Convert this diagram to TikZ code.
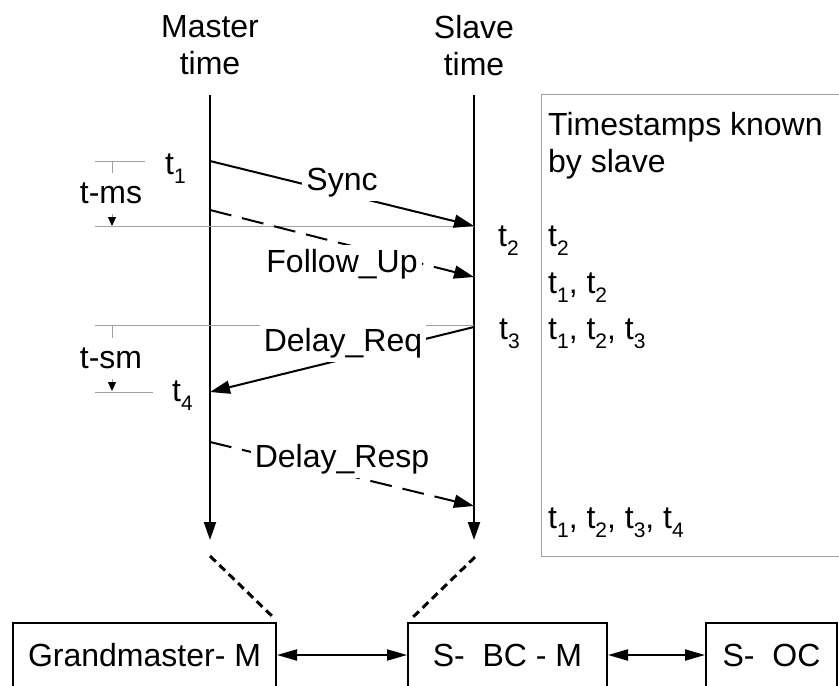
\documentclass[tikz,border=0pt]{standalone}
\usepackage{fontspec}
\setmainfont{Liberation Sans}
\usetikzlibrary{arrows.meta}
\newcommand\tsub[1]{t\raisebox{-9pt}{\fontsize{21}{21}\selectfont #1}}
\begin{document}
\begin{tikzpicture}[x=1pt,y=-1pt,
  every node/.style={font=\fontsize{32}{37}\selectfont, inner sep=0pt},
  timeline/.style={line width=2pt,-{Triangle[length=18pt,width=12pt]}},
  msg/.style={line width=2pt,-{Triangle[length=20pt,width=13pt]}},
  dmsg/.style={msg, dash pattern=on 22pt off 11pt},
  guide/.style={gray!75, line width=1pt},
  dimarrow/.style={guide,-{Triangle[length=9pt,width=8pt,color=black]}},
  lbl/.style={fill=white, inner sep=4pt, anchor=base},
  dimlbl/.style={fill=white, inner xsep=2pt, inner ysep=10pt},
  tlbl/.style={anchor=base west},
  entity/.style={draw, line width=2pt, minimum height=64pt},
  link/.style={line width=2pt,{Triangle[length=20pt,width=11pt]}-{Triangle[length=20pt,width=11pt]}},
  joint/.style={line width=3pt, dash pattern=on 8pt off 5pt}
]
\useasboundingbox (0,0) rectangle (839,686);

% headings
\node[align=center, anchor=north] (mhead) at (210,15) {Master\\time};
\node[align=center, anchor=north] (shead) at (474,15) {Slave\\time};

% timelines
\coordinate (mtop) at (210,95);
\coordinate (mbot) at (210,540);
\coordinate (stop) at (474,95);
\coordinate (sbot) at (474,540);
\draw[timeline] (mtop) -- (mbot);
\draw[timeline] (stop) -- (sbot);

% event points
\coordinate (m1) at (210,161);
\coordinate (s2) at (474,226);
\coordinate (m1b) at (210,210);
\coordinate (s2b) at (474,277);
\coordinate (s3) at (474,327);
\coordinate (m4) at (210,392);
\coordinate (m5) at (210,442);
\coordinate (s6) at (474,506);

% guide lines
\coordinate (g1a) at (95,161);
\coordinate (g1b) at (145,161);
\coordinate (g2a) at (95,226);
\coordinate (g3a) at (95,325);
\coordinate (g3b) at (474,325);
\coordinate (g4a) at (95,392);
\coordinate (g4b) at (153,392);
\coordinate (d1a) at (112,161);
\coordinate (d1b) at (112,226);
\coordinate (d2a) at (112,325);
\coordinate (d2b) at (112,391);
\draw[guide] (g1a) -- (g1b);
\draw[guide] (g2a) -- (s2);
\draw[guide] (g3a) -- (g3b);
\draw[guide] (g4a) -- (g4b);
\draw[dimarrow] (d1a) -- (d1b);
\draw[dimarrow] (d2a) -- (d2b);
\node[dimlbl] (tms) at (111,193) {t-ms};
\node[dimlbl] (tsm) at (111,358) {t-sm};

% messages
\draw[msg] (m1) -- (s2);
\draw[dmsg] (m1b) -- (s2b);
\draw[msg] (s3) -- (m4);
\draw[dmsg] (m5) -- (s6);
\node[lbl] (sync) at (342,190) {Sync};
\node[lbl] (fup) at (342,272) {Follow\_Up};
\node[lbl] (dreq) at (343,351) {Delay\_Req};
\node[lbl] (dresp) at (342,467) {Delay\_Resp};

% timestamp labels
\node[tlbl] (t1) at (165,174) {\tsub{1}};
\node[tlbl] (t2) at (498,246) {\tsub{2}};
\node[tlbl] (t3) at (499,339) {\tsub{3}};
\node[tlbl] (t4) at (172,401) {\tsub{4}};

% timestamps box
\draw[guide] (541,94) rectangle (850,556);
\node[anchor=north west, align=left] (known) at (548,112) {Timestamps known\\by slave};
\node[tlbl] (k1) at (548,246) {\tsub{2}};
\node[tlbl] (k2) at (548,293) {\tsub{1}, \tsub{2}};
\node[tlbl] (k3) at (548,339) {\tsub{1}, \tsub{2}, \tsub{3}};
\node[tlbl] (k4) at (548,528) {\tsub{1}, \tsub{2}, \tsub{3}, \tsub{4}};

% clocks
\node[entity, minimum width=263pt] (gm) at (144.5,655) {Grandmaster- M};
\node[entity, minimum width=199pt] (bc) at (507.5,655) {S-\ \ BC - M};
\node[entity, minimum width=131pt] (oc) at (771.5,655) {S-\ \ OC};
\draw[link] (gm.east) -- (bc.west);
\draw[link] (bc.east) -- (oc.west);

\coordinate (mj) at (210,556);
\coordinate (sj) at (475,557);
\draw[joint] (mj) -- ([xshift=-3pt,yshift=4pt]gm.north east);
\draw[joint] (sj) -- ([xshift=4pt,yshift=3pt]bc.north west);
\end{tikzpicture}
\end{document}
